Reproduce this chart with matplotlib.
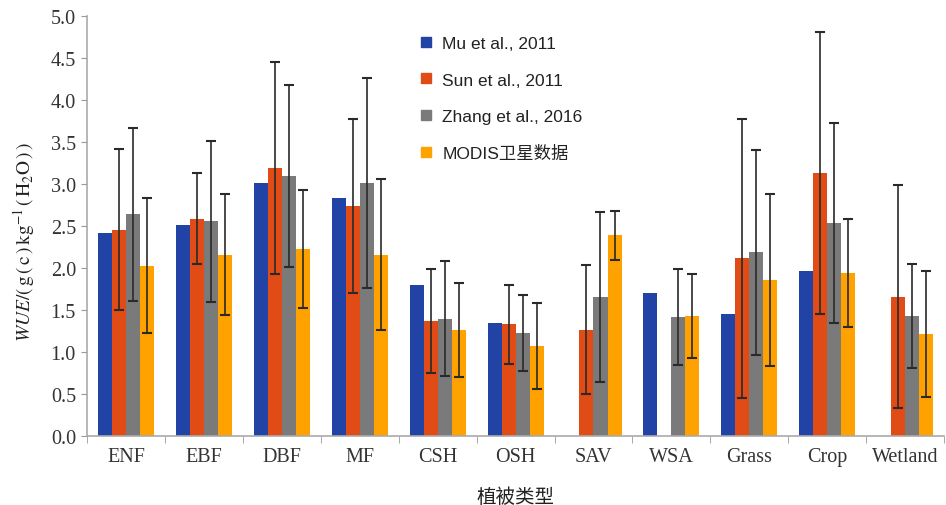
import numpy as np
import matplotlib
matplotlib.use("Agg")
import matplotlib.pyplot as plt
from matplotlib.lines import Line2D
from matplotlib.ticker import FixedLocator

plt.rcParams['mathtext.fontset'] = 'stix'

categories = ["ENF", "EBF", "DBF", "MF", "CSH", "OSH", "SAV", "WSA", "Grass", "Crop", "Wetland"]
series_names = ["Mu et al., 2011", "Sun et al., 2011", "Zhang et al., 2016", "MODIS卫星数据"]

mu_vals = [2.42, 2.51, 3.01, 2.84, 1.80, 1.35, np.nan, 1.70, 1.46, 1.97, np.nan]
sun_vals = [2.46, 2.59, 3.19, 2.74, 1.37, 1.33, 1.27, np.nan, 2.12, 3.13, 1.66]
sun_err = [0.96, 0.54, 1.26, 1.04, 0.62, 0.47, 0.77, np.nan, 1.66, 1.68, 1.33]
zhang_vals = [2.64, 2.56, 3.10, 3.01, 1.40, 1.23, 1.66, 1.42, 2.19, 2.54, 1.43]
zhang_err = [1.03, 0.96, 1.08, 1.25, 0.68, 0.45, 1.01, 0.57, 1.22, 1.19, 0.62]
modis_vals = [2.03, 2.16, 2.23, 2.16, 1.26, 1.07, 2.39, 1.43, 1.86, 1.94, 1.22]
modis_err = [0.80, 0.72, 0.70, 0.90, 0.56, 0.51, 0.29, 0.50, 1.02, 0.645, 0.75]

colors = ["#2143A6", "#E04B16", "#7A7A7A", "#FFA200"]

fig = plt.figure(figsize=(9.46, 5.06), dpi=100)
ax = fig.add_axes([0.092, 0.136, 0.906, 0.830])

x = np.arange(len(categories))
w = 0.18
vals = [mu_vals, sun_vals, zhang_vals, modis_vals]
errs = [None, sun_err, zhang_err, modis_err]
for i, (v, e, c) in enumerate(zip(vals, errs, colors)):
    pos = x + (i - 1.5) * w
    ax.bar(pos, v, width=w, color=c, edgecolor='none', zorder=2)
    if e is not None:
        ax.errorbar(pos, v, yerr=e, fmt='none', ecolor='#2a2a2a', elinewidth=1.2,
                    capsize=3.5, capthick=1.5, zorder=3)

ax.set_xlim(-0.5, len(categories) - 0.5)
ax.set_ylim(0, 5.0)
ax.set_yticks(np.arange(0, 5.01, 0.5))
ax.set_yticklabels([f"{t:.1f}" for t in np.arange(0, 5.01, 0.5)],
                   fontfamily='Liberation Serif', fontsize=14.5, color='#333333')
ax.set_xticks(x)
ax.set_xticklabels(categories, fontfamily='Liberation Serif', fontsize=14.5, color='#333333')
ax.xaxis.set_minor_locator(FixedLocator(np.arange(-0.5, len(categories), 1.0)))
ax.tick_params(axis='x', which='major', length=0, pad=8)
ax.tick_params(axis='x', which='minor', length=5, color='#999999', direction='out')
ax.tick_params(axis='y', length=4, color='#999999', direction='out', pad=4)

for s in ['top', 'right']:
    ax.spines[s].set_visible(False)
for s in ['left', 'bottom']:
    ax.spines[s].set_color('#aaaaaa')
    ax.spines[s].set_linewidth(1.2)

ax.set_ylabel(r"$\mathit{WUE}/(\,\mathrm{g}\,(\,\mathrm{c}\,)\,\mathrm{kg}^{-1}\,(\,\mathrm{H}_2\mathrm{O}\,)\,)$",
              fontsize=14, color='#222222')
ax.yaxis.set_label_coords(-0.058, 0.465)
ax.set_xlabel("植被类型", fontfamily=['Noto Sans CJK SC', 'DejaVu Sans'], fontsize=14,
              color='#222222', labelpad=14)

handles = [Line2D([0], [0], marker='s', linestyle='none', markersize=7,
                  markerfacecolor=c, markeredgecolor=c) for c in colors]
leg = ax.legend(handles, series_names, loc='upper left', bbox_to_anchor=(0.367, 0.99),
                frameon=False, labelspacing=1.22, handletextpad=0.45, handlelength=1.0,
                prop={'family': ['Liberation Sans', 'Noto Sans CJK SC'], 'size': 12.5})
for t in leg.get_texts():
    t.set_color('#222222')

fig.savefig("out.png", dpi=100)
